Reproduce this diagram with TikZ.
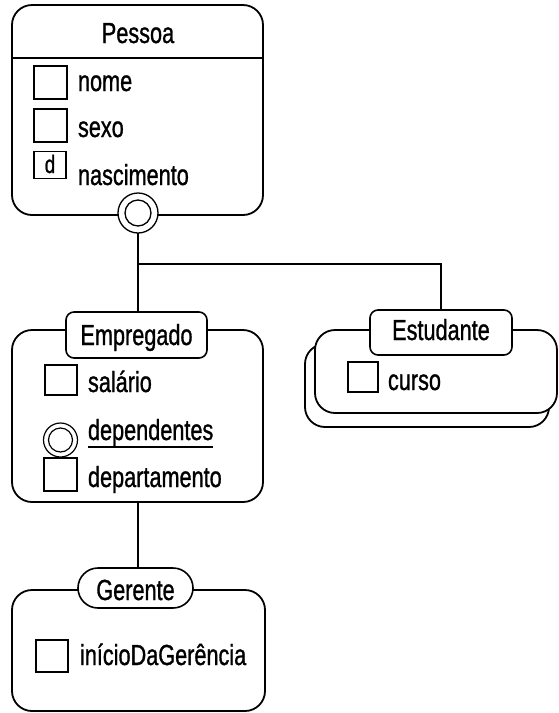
\documentclass[tikz,border=0pt]{standalone}
\usepackage{fontspec}
\setmainfont{Liberation Sans}[FakeStretch=0.85, FakeBold=1.1]
% taller, narrow lettering
\newcommand{\tall}[1]{\scalebox{1}[1.14]{#1}}
\begin{document}
\begin{tikzpicture}[x=1pt,y=-1pt,
  every node/.style={inner sep=0pt, outer sep=0pt},
  lbl/.style={anchor=base west, font=\fontsize{25.5}{30}\selectfont},
  ttl/.style={anchor=base, font=\fontsize{25.5}{30}\selectfont},
  classbox/.style={draw, line width=1.8pt, rounded corners=20pt},
  titlebox/.style={draw, line width=1.6pt, rounded corners=8pt, fill=white},
  thickattr/.style={draw, line width=2.8pt, minimum size=33pt},
  thinattr/.style={draw, line width=1.2pt},
  conn/.style={line width=1.3pt}]
\useasboundingbox (0,0) rectangle (558,713);

% ---- Pessoa ----
\node[classbox, minimum width=251pt, minimum height=210pt] (pessoa) at (137.5,110) {};
\draw[line width=1.5pt] (pessoa.west |- 0,58) -- (pessoa.east |- 0,58);
\node[ttl] (pessoaT) at (138,43) {\tall{Pessoa}};
\node[thickattr] (nomeB) at (50.5,82.5) {};
\node[lbl] (nomeL) at (78,91) {\tall{nome}};
\node[thickattr] (sexoB) at (50.5,125.5) {};
\node[lbl] (sexoL) at (78,137) {\tall{sexo}};
\node[thinattr, minimum width=32pt, minimum height=27pt] (nascB) at (50,165) {};
\node[ttl, font=\fontsize{22}{26}\selectfont] (nascD) at (50,173) {\tall{d}};
\node[lbl] (nascL) at (78,185) {\tall{nascimento}};
\node[circle, draw, line width=1.3pt, fill=white, minimum size=40pt] (pcirc) at (138,213) {};
\node[circle, draw, line width=1.3pt, minimum size=26pt] (pcircIn) at (pcirc) {};

% ---- Estudante (multiple: two stacked boxes) ----
\node[classbox, minimum width=244pt, minimum height=83pt, fill=white] (estBack) at (427,385.5) {};
\node[classbox, minimum width=242pt, minimum height=83pt, fill=white] (est) at (436,371.5) {};
\node[titlebox, minimum width=142pt, minimum height=45pt] (estT) at (441,332.5) {};
\node[ttl] (estL) at (estT.center |- 0,340) {\tall{Estudante}};
\node[thinattr, minimum size=30pt] (cursoB) at (363,377) {};
\node[lbl] (cursoL) at (388,390) {\tall{curso}};

% ---- Empregado ----
\node[classbox, minimum width=251pt, minimum height=172pt] (emp) at (137.5,416) {};
\node[titlebox, minimum width=141pt, minimum height=46pt] (empT) at (136.5,335) {};
\node[ttl] (empL) at (empT.center |- 0,345) {\tall{Empregado}};
\node[thinattr, minimum width=32pt, minimum height=30pt] (salB) at (61,380) {};
\node[lbl] (salL) at (88,392) {\tall{salário}};
\node[circle, draw, line width=1.2pt, minimum size=34pt] (depC) at (60.5,440) {};
\node[circle, draw, line width=1.2pt, minimum size=24pt] (depCIn) at (depC) {};
\node[lbl] (depL) at (88,440) {\tall{dependentes}};
\draw[line width=1.2pt] ([yshift=-7pt]depL.base west) -- ([yshift=-7pt]depL.base east);
\node[thickattr] (deptB) at (60.5,474.5) {};
\node[lbl] (deptL) at (88,487) {\tall{departamento}};

% ---- Gerente ----
\node[classbox, minimum width=253pt, minimum height=121pt] (ger) at (138.5,650.5) {};
\node[titlebox, rounded corners=20pt, minimum width=115pt, minimum height=40pt] (gerT) at (135.5,588) {};
\node[ttl] (gerL) at (gerT.center |- 0,600) {\tall{Gerente}};
\node[thinattr, minimum size=32pt] (inicB) at (52,656) {};
\node[lbl] (inicL) at (80,665) {\tall{inícioDaGerência}};

% ---- connectors ----
\coordinate (branch) at (138,264);
\draw[conn] (pcirc.south) -- (branch) -- (empT.north -| branch);
\draw[conn] (branch) -| (estT.north);
\draw[conn] (emp.south -| branch) -- (gerT.north -| branch);
\end{tikzpicture}
\end{document}
